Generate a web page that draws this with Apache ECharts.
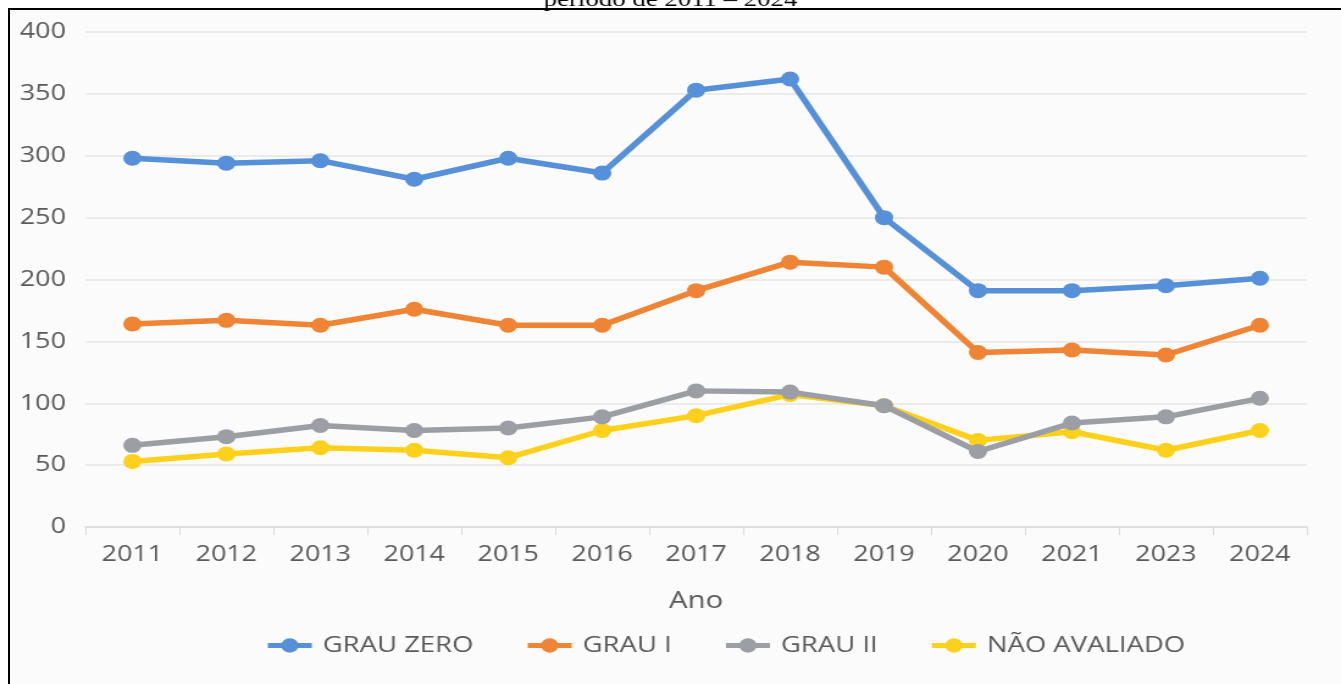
<!DOCTYPE html>
<html><head><meta charset="utf-8">
<script src="https://cdn.jsdelivr.net/npm/echarts@6/dist/echarts.min.js"></script>
<style>
html,body{margin:0;padding:0;background:#fff;width:1341px;height:684px;overflow:hidden;}
#frame{position:absolute;left:8px;top:8px;width:1341px;height:690px;border-left:2px solid #000;border-top:2px solid #000;background:#fbfbfb;}
#c{position:absolute;left:0;top:0;width:1099px;height:684px;transform:scaleX(1.2202);transform-origin:0 0;}
</style></head>
<body>
<div id="frame"></div>
<div id="c"></div>
<script>
const categories = ['2011','2012','2013','2014','2015','2016','2017','2018','2019','2020','2021','2023','2024'];
const grauZero = [298,294,296,281,298,286,353,362,250,191,191,195,201];
const grauI = [164,167,163,176,163,163,191,214,210,141,143,139,163];
const grauII = [66,73,82,78,80,89,110,109,98,61,84,89,104];
const naoAvaliado = [53,59,64,62,56,78,90,107,98,70,77,62,78];
const seriesNames = ['GRAU ZERO','GRAU I','GRAU II','NÃO AVALIADO'];
const colors = ['#5590D8','#EE8434','#9C9EA5','#FDD11B'];

const chart = echarts.init(document.getElementById('c'), null, {renderer:'canvas'});
const font = "'Open Sans', sans-serif";
const mk = (name, data, i) => ({
  name, type:'line', data, symbol:'circle', symbolSize:15,
  lineStyle:{width:5.5, color:colors[i]}, itemStyle:{color:colors[i]},
  z: 10 - i
});
chart.setOption({
  animation:false,
  color: colors,
  graphic:[{type:'text', left:'center', top:-11, style:{text:'período de 2011 – 2024', font:"22px 'Liberation Serif', serif", fill:'#000'}}],
  grid:{left:70, right:28, top:32, bottom:157},
  legend:{bottom:22, left:212, itemWidth:36, itemHeight:18, itemGap:42,
    lineStyle:{width:5},
    textStyle:{fontFamily:font, fontSize:22.5, color:'#595959', padding:[0,0,0,4]},
    data: seriesNames},
  xAxis:{type:'category', data:categories, boundaryGap:true,
    name:'Ano', nameLocation:'middle', nameGap:62,
    nameTextStyle:{fontFamily:font, fontSize:24, color:'#595959'},
    axisLine:{lineStyle:{color:'#d9d9d9', width:1.5}},
    axisTick:{show:true, length:8, lineStyle:{color:'#d9d9d9'}},
    axisLabel:{fontFamily:font, fontSize:22, color:'#595959', margin:17}},
  yAxis:{type:'value', min:0, max:400, interval:50,
    axisLine:{show:false}, axisTick:{show:false},
    splitLine:{lineStyle:{color:'#e6e6e6', width:1.5}},
    axisLabel:{fontFamily:font, fontSize:22, color:'#595959', margin:16}},
  series:[mk(seriesNames[0],grauZero,0), mk(seriesNames[1],grauI,1), mk(seriesNames[2],grauII,2), mk(seriesNames[3],naoAvaliado,3)]
});
</script>
</body></html>
